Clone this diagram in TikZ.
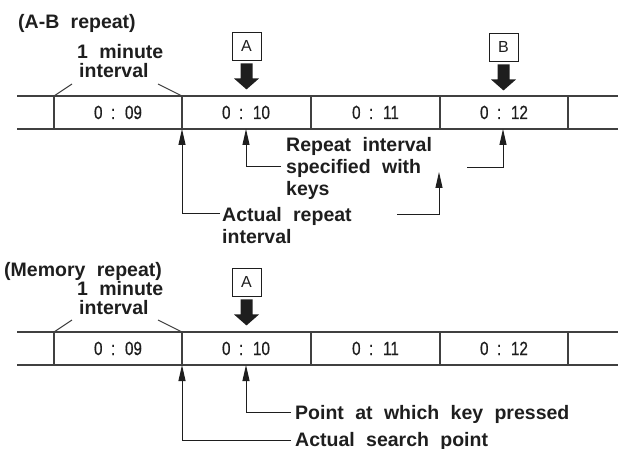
\documentclass[tikz,border=0pt]{standalone}
\usepackage{fontspec}
\setmainfont{Liberation Sans}
\newfontfamily\lblfam[WordSpace=2.1]{Liberation Sans}
\newfontfamily\numfam[FakeStretch=0.8,WordSpace=2,FakeBold=0.6]{Liberation Sans}
\usetikzlibrary{arrows.meta}
\definecolor{ink}{HTML}{1E1E1E}
\begin{document}
\begin{tikzpicture}[x=1pt,y=-1pt,
  lbl/.style={font=\lblfam\bfseries\fontsize{19.5}{21}\selectfont, text=ink, inner sep=0pt, anchor=base west},
  num/.style={font=\numfam\fontsize{19}{21}\selectfont, text=ink, inner sep=0pt, anchor=base},
  keybox/.style={draw=ink, line width=0.9pt, minimum width=29pt, minimum height=28pt, inner sep=0pt, font=\fontsize{16}{18}\selectfont, text=ink},
  rule/.style={draw=ink!85, line width=1.1pt},
  lead/.style={draw=ink, line width=1pt},
  up/.style={lead, -{Triangle[length=16pt,width=7pt]}},
  fatarrow/.style={fill=ink},
]
\useasboundingbox (0,0) rectangle (618,449);

% ---------- A-B repeat ----------
\node[lbl] (t1) at (18,29) {(A-B repeat)};
\node[lbl] (m1a) at (77,59) {1 minute};
\node[lbl] (m1b) at (79,78) {interval};
\node[keybox] (ka) at (246.5,46) {A};
\node[keybox] (kb) at (503.5,47) {B};
\fill[fatarrow] ([yshift=-3pt]ka.south) ++(-6,0) -- ++(12,0) -- ++(0,15) -- ++(6.5,0) -- ++(-12.5,11) -- ++(-12.5,-11) -- ++(6.5,0) -- cycle;
\fill[fatarrow] ([yshift=-3pt]kb.south) ++(-6,0) -- ++(12,0) -- ++(0,15) -- ++(6.5,0) -- ++(-12.5,11) -- ++(-12.5,-11) -- ++(6.5,0) -- cycle;

\coordinate (s1tl) at (17,96);  \coordinate (s1tr) at (618,96);
\coordinate (s1bl) at (17,129); \coordinate (s1br) at (618,129);
\draw[rule] (s1tl) -- (s1tr);
\draw[rule] (s1bl) -- (s1br);
\foreach \x/\n in {54/a,182/b,311/c,440/d,568/e}{
  \coordinate (u\n t) at (\x,96); \coordinate (u\n b) at (\x,129);
  \draw[rule] (u\n t) -- (u\n b);
}
\node[num] (n1) at (118,119) {0 : 09};
\node[num] (n2) at (246,119) {0 : 10};
\node[num] (n3) at (375.5,119) {0 : 11};
\node[num] (n4) at (504,119) {0 : 12};

\coordinate (sl1) at (72,84);  \coordinate (sr1) at (158,84);
\draw[rule] (uat) -- (sl1);
\draw[rule] (sr1) -- (ubt);

\node[lbl] (r1) at (286,152) {Repeat interval};
\node[lbl] (r2) at (286,174) {specified with};
\node[lbl] (r3) at (286,196) {keys};
\node[lbl] (a1) at (222,222) {Actual repeat};
\node[lbl] (a2) at (222,243) {interval};

\coordinate (ea) at (220,213);
\draw[up] (ea) -| (ubb);
\coordinate (er) at (281,167); \coordinate (xa) at (246,129);
\draw[up] (er) -| (xa);
\coordinate (er2) at (467,168); \coordinate (xb) at (503,129);
\draw[up] (er2) -| (xb);
\coordinate (ea2) at (397,214); \coordinate (xk) at (439,172);
\draw[up] (ea2) -| (xk);

% ---------- Memory repeat ----------
\node[lbl] (t2) at (4,276) {(Memory repeat)};
\node[lbl] (m2a) at (77,295) {1 minute};
\node[lbl] (m2b) at (79,314) {interval};
\node[keybox] (kc) at (246.5,282) {A};
\fill[fatarrow] ([yshift=-3pt]kc.south) ++(-6,0) -- ++(12,0) -- ++(0,15) -- ++(6.5,0) -- ++(-12.5,11) -- ++(-12.5,-11) -- ++(6.5,0) -- cycle;

\coordinate (s2tl) at (17,332);  \coordinate (s2tr) at (618,332);
\coordinate (s2bl) at (17,365);  \coordinate (s2br) at (618,365);
\draw[rule] (s2tl) -- (s2tr);
\draw[rule] (s2bl) -- (s2br);
\foreach \x/\n in {54/a,182/b,311/c,440/d,568/e}{
  \coordinate (v\n t) at (\x,332); \coordinate (v\n b) at (\x,365);
  \draw[rule] (v\n t) -- (v\n b);
}
\node[num] (n5) at (118,355) {0 : 09};
\node[num] (n6) at (246,355) {0 : 10};
\node[num] (n7) at (375.5,355) {0 : 11};
\node[num] (n8) at (504,355) {0 : 12};

\coordinate (sl2) at (72,320);  \coordinate (sr2) at (158,320);
\draw[rule] (vat) -- (sl2);
\draw[rule] (sr2) -- (vbt);

\node[lbl] (p1) at (295,419) {Point at which key pressed};
\node[lbl] (p2) at (295,446) {Actual search point};

\coordinate (ep1) at (291,412); \coordinate (xc) at (246,365);
\draw[up] (ep1) -| (xc);
\coordinate (ep2) at (291,440);
\draw[up] (ep2) -| (vbb);
\end{tikzpicture}
\end{document}
